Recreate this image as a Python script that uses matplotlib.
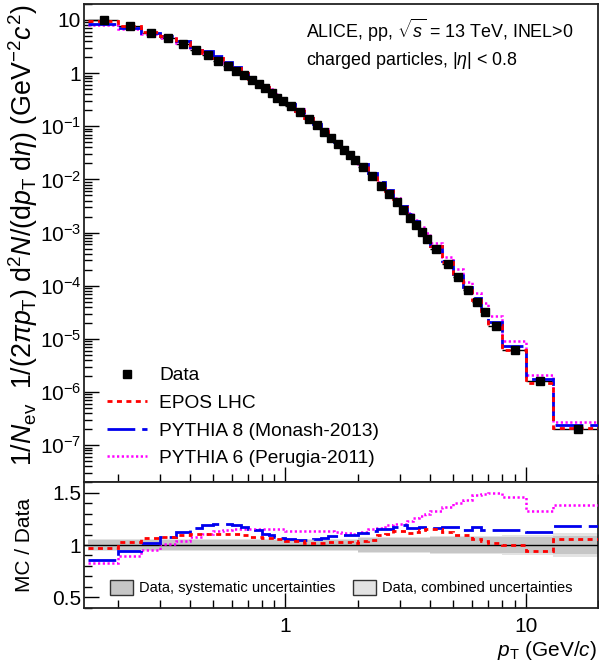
import numpy as np
import matplotlib
matplotlib.use("Agg")
import matplotlib.pyplot as plt
from matplotlib.patches import Patch
from matplotlib.lines import Line2D
from matplotlib.ticker import FixedLocator, FuncFormatter, LogLocator, NullFormatter, MultipleLocator

plt.rcParams['font.family'] = ['Liberation Sans', 'DejaVu Sans']
plt.rcParams['mathtext.fontset'] = 'custom'
plt.rcParams['mathtext.rm'] = 'Liberation Sans'
plt.rcParams['mathtext.it'] = 'Liberation Sans:italic'
plt.rcParams['mathtext.sf'] = 'Liberation Sans'

# ---------------- data ----------------
pt_edges = [0.15, 0.2, 0.25, 0.3, 0.35, 0.4, 0.45, 0.5, 0.55, 0.6, 0.65, 0.7, 0.75, 0.8,
            0.85, 0.9, 0.95, 1.0, 1.1, 1.2, 1.3, 1.4, 1.5, 1.6, 1.7, 1.8, 1.9, 2.0,
            2.2, 2.4, 2.6, 2.8, 3.0, 3.2, 3.4, 3.6, 3.8, 4.0, 4.5, 5.0, 5.5, 6.0, 6.5,
            7.0, 8.0, 10.0, 13.0, 20.0]

data_yield = [9.9, 7.66, 5.65, 4.61, 3.56, 2.71, 2.19, 1.71, 1.34, 1.11, 0.910, 0.733,
              0.624, 0.519, 0.429, 0.345, 0.300, 0.245, 0.189, 0.138, 0.106, 0.0796,
              0.0614, 0.0468, 0.0361, 0.0284, 0.0229, 0.0175, 0.0115, 0.00762, 0.00539,
              0.00371, 0.00262, 0.00191, 0.00139, 0.00101, 0.000762, 0.000486, 0.000251,
              0.000145, 8.16e-5, 5.01e-5, 3.25e-5, 1.78e-5, 6.3e-6, 1.6e-6, 2.0e-7]

ratio_epos = [0.97, 1.026, 1.067, 1.08, 1.093, 1.103, 1.11, 1.11, 1.11, 1.11, 1.096, 1.08,
              1.08, 1.07, 1.07, 1.058, 1.058, 1.038, 1.038, 1.022, 1.022, 1.022, 1.029,
              1.029, 1.029, 1.03, 1.023, 1.038, 1.052, 1.093, 1.103, 1.135, 1.135, 1.115,
              1.125, 1.144, 1.157, 1.157, 1.125, 1.093, 1.10, 1.055, 1.038, 1.023, 0.997,
              0.942, 1.062]

ratio_py8 = [0.853, 0.942, 1.016, 1.08, 1.128, 1.167, 1.19, 1.205, 1.205, 1.19, 1.17, 1.154,
             1.14, 1.107, 1.096, 1.08, 1.064, 1.054, 1.048, 1.048, 1.054, 1.07, 1.086,
             1.09, 1.096, 1.10, 1.10, 1.119, 1.135, 1.157, 1.157, 1.173, 1.189, 1.165,
             1.165, 1.173, 1.165, 1.163, 1.17, 1.17, 1.148, 1.17, 1.146, 1.146, 1.146,
             1.122, 1.183]

ratio_py6 = [0.824, 0.894, 0.95, 1.007, 1.04, 1.08, 1.11, 1.138, 1.145, 1.15, 1.154, 1.154,
             1.154, 1.154, 1.154, 1.154, 1.154, 1.138, 1.138, 1.138, 1.138, 1.138, 1.13,
             1.125, 1.119, 1.119, 1.11, 1.129, 1.157, 1.167, 1.192, 1.199, 1.205, 1.23,
             1.263, 1.279, 1.295, 1.327, 1.359, 1.398, 1.433, 1.481, 1.487, 1.494, 1.462,
             1.327, 1.385]

sys_unc = [0.05] * 17 + [0.045] * 10 + [0.065] * 10 + [0.072] * 6 + [0.072, 0.072, 0.075, 0.09]
comb_unc = [0.058] * 17 + [0.06] * 10 + [0.08] * 10 + [0.088] * 6 + [0.09, 0.095, 0.1, 0.115]

# ---------------- derived ----------------
edges = np.array(pt_edges)
centers = 0.5 * (edges[:-1] + edges[1:])
xerr = 0.5 * (edges[1:] - edges[:-1])
data = np.array(data_yield)
mc_epos = data * np.array(ratio_epos)
mc_py8 = data * np.array(ratio_py8)
mc_py6 = data * np.array(ratio_py6)
sysu = np.array(sys_unc)
combu = np.array(comb_unc)

W, H = 599, 671
fig = plt.figure(figsize=(W / 100, H / 100), dpi=100)
ax = fig.add_axes([84 / W, 1 - 482.3 / H, 514 / W, (482.3 - 4) / H])
axr = fig.add_axes([84 / W, 1 - 607.7 / H, 514 / W, (607.7 - 482.3) / H], sharex=ax)

red = '#ff0000'
blue = '#0000ee'
mag = '#ff00ff'

st_epos = dict(color=red, lw=2.0, linestyle=(0, (1.8, 1.6)))
st_py8 = dict(color=blue, lw=2.0, linestyle=(0, (10, 2.5)))
st_py6 = dict(color=mag, lw=1.8, linestyle=(0, (0.9, 1.0)))

# main panel
ax.errorbar(centers, data, xerr=xerr, fmt='none', ecolor='black', elinewidth=1.0, zorder=2)
ax.stairs(mc_py6, edges, baseline=None, **st_py6, zorder=3)
ax.stairs(mc_py8, edges, baseline=None, **st_py8, zorder=4)
ax.stairs(mc_epos, edges, baseline=None, **st_epos, zorder=5)
ax.plot(centers, data, 's', color='black', ms=6, zorder=6, linestyle='none')

ax.set_xscale('log')
ax.set_yscale('log')
ax.set_xlim(0.145, 20)
ax.set_ylim(2e-8, 20)

def ylab(v, pos):
    e = int(round(np.log10(v)))
    if e == 1:
        return '10'
    if e == 0:
        return '1'
    return r'$10^{%d}$' % e

ax.yaxis.set_major_locator(FixedLocator([10.0 ** k for k in range(-7, 2)]))
ax.yaxis.set_major_formatter(FuncFormatter(ylab))
ax.yaxis.set_minor_locator(LogLocator(base=10, subs=np.arange(2, 10), numticks=30))
ax.yaxis.set_minor_formatter(NullFormatter())
ax.tick_params(axis='both', which='major', direction='in', length=11, width=1.0,
               labelsize=15, pad=2)
ax.tick_params(axis='both', which='minor', direction='in', length=5.5, width=1.0)
ax.tick_params(axis='x', which='both', labelbottom=False)

ax.text(0.431, 0.9456, r'ALICE, pp, $\sqrt{s}$ = 13 TeV, INEL>0', transform=ax.transAxes,
        fontsize=12.9, ha='left', va='center')
ax.text(0.431, 0.881, r'charged particles, |$\eta$| < 0.8', transform=ax.transAxes,
        fontsize=12.9, ha='left', va='center')

handles = [Line2D([], [], marker='s', color='black', ms=6, linestyle='none'),
           Line2D([], [], **st_epos),
           Line2D([], [], **st_py8),
           Line2D([], [], **st_py6)]
labels = ['Data', 'EPOS LHC', 'PYTHIA 8 (Monash-2013)', 'PYTHIA 6 (Perugia-2011)']
ax.legend(handles, labels, loc='upper left', bbox_to_anchor=(0.045, 0.241),
          frameon=False, fontsize=13.8, handlelength=2.1, handletextpad=0.6,
          labelspacing=0.53, borderaxespad=0, borderpad=0)

# ratio panel
axr.stairs(1 + combu, edges, baseline=1 - combu, fill=True, color='#e3e3e3', lw=0, zorder=1)
axr.stairs(1 + sysu, edges, baseline=1 - sysu, fill=True, color='#c6c6c6', lw=0, zorder=2)
axr.axhline(1.0, color='black', lw=1.0, zorder=3)
axr.stairs(np.array(ratio_py6), edges, baseline=None, **st_py6, zorder=4)
axr.stairs(np.array(ratio_py8), edges, baseline=None, **st_py8, zorder=5)
axr.stairs(np.array(ratio_epos), edges, baseline=None, **st_epos, zorder=6)

axr.set_ylim(0.4, 1.6)
axr.yaxis.set_major_locator(FixedLocator([0.5, 1.0, 1.5]))
axr.yaxis.set_major_formatter(FuncFormatter(lambda v, p: '1' if abs(v - 1) < 1e-6 else ('%g' % v)))
axr.yaxis.set_minor_locator(MultipleLocator(0.1))
axr.xaxis.set_major_locator(FixedLocator([1.0, 10.0]))
axr.xaxis.set_major_formatter(FuncFormatter(lambda v, p: '%d' % round(v)))
axr.xaxis.set_minor_locator(LogLocator(base=10, subs=np.arange(2, 10), numticks=30))
axr.xaxis.set_minor_formatter(NullFormatter())
axr.tick_params(axis='y', which='major', direction='in', length=11, width=1.0,
                labelsize=15, pad=2)
axr.tick_params(axis='y', which='minor', direction='in', length=5.5, width=1.0)
axr.tick_params(axis='x', which='major', direction='in', length=11, width=1.0,
                labelsize=15, pad=7)
axr.tick_params(axis='x', which='minor', direction='in', length=6, width=1.0)

rh = [Patch(facecolor='#c6c6c6', edgecolor='#333333', lw=1.0),
      Patch(facecolor='#e3e3e3', edgecolor='#333333', lw=1.0)]
axr.legend(rh, ['Data, systematic uncertainties', 'Data, combined uncertainties'],
           loc='lower left', bbox_to_anchor=(0.05, 0.1), ncol=2, frameon=False,
           fontsize=10.5, handlelength=1.6, handleheight=1.2, handletextpad=0.4,
           columnspacing=1.2, borderaxespad=0, borderpad=0)

for a in (ax, axr):
    for s in a.spines.values():
        s.set_linewidth(1.3)
        s.set_color('#222222')

fig.text(23 / W, 1 - 466 / H,
         r'1/$N_{\mathrm{ev}}$  1/(2$\pi$$p_{\mathrm{T}}$) d$^{2}$$N$/(d$p_{\mathrm{T}}$ d$\eta$) (GeV$^{-2}$$c^{2}$)',
         rotation=90, ha='left', va='center', rotation_mode='anchor', fontsize=19.3)
fig.text(25 / W, 1 - 545 / H, 'MC / Data', rotation=90, ha='center', va='center', fontsize=15)
fig.text(597 / W, 1 - 650 / H, r'$p_{\mathrm{T}}$ (GeV/$c$)', ha='right', va='center', fontsize=15)

fig.savefig('out.png', dpi=100)
